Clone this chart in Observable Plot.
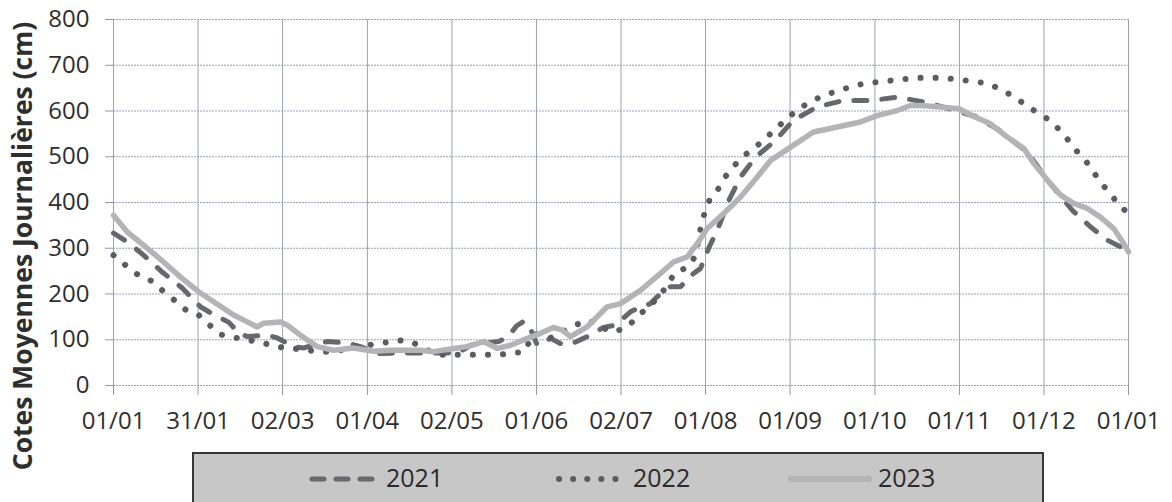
<!DOCTYPE html>
<html>
<head>
<meta charset="utf-8">
<script src="https://cdn.jsdelivr.net/npm/d3@7"></script>
<script src="https://cdn.jsdelivr.net/npm/@observablehq/plot@0.6"></script>
<style>
  html, body { margin: 0; padding: 0; background: #ffffff; overflow: hidden; }
  body { position: relative; width: 1172px; height: 502px; font-family: "Open Sans", sans-serif; }
  #chart { position: absolute; left: 0; top: 0; }
  #ytitle { position: absolute; left: 22px; top: 246px; white-space: nowrap; font-weight: bold;
            font-size: 26.5px; line-height: 1; color: #2e2e2e;
            transform: translate(-50%, -50%) rotate(-90deg); }
  #legend { position: absolute; left: 192px; top: 452px; width: 848px; height: 70px;
            background: #c7c7c7; border: 2px solid #363636; }
  .sw { position: absolute; }
  .lt { position: absolute; font-size: 25px; color: #2b2b2b; line-height: 1; }
</style>
</head>
<body>
<div id="chart"></div>
<div id="ytitle"></div>
<div id="legend"></div>
<script>
// ---- Data ----
const tickDays = [0, 30.4, 60.8, 91.3, 121.7, 152.1, 182.5, 212.9, 243.3, 273.8, 304.2, 334.6, 365];
const tickLabels = ["01/01","31/01","02/03","01/04","02/05","01/06","02/07","01/08","01/09","01/10","01/11","01/12","01/01"];
const yTicks = [0, 100, 200, 300, 400, 500, 600, 700, 800];
const yTitle = "Cotes Moyennes Journalières (cm)";
const years = ["2021", "2022", "2023"];

const days2021 = [0, 5.0, 10.8, 17.5, 24.7, 31.3, 36.0, 41.5, 45.0, 48.1,
  55.3, 58.9, 64.8, 68.3, 76.8, 84.0, 88.8, 94.8, 103.2, 116.5,
  123.7, 128.4, 138.5, 142.0, 144.9, 147.4, 149.2, 152.4, 157.2, 160.7,
  164.3, 169.0, 171.5, 176.2, 180.5, 185.9, 188.3, 193.1, 195.5, 200.3,
  203.9, 208.6, 211.1, 214.0, 217.1, 221.3, 225.5, 230.9, 238.1, 244.5,
  253.1, 262.5, 272.2, 281.8, 291.4, 302.8, 310.0, 317.8, 328.6, 335.8,
  344.8, 351.3, 357.3, 362.1, 365];
const cote2021 = [333, 314, 285, 248, 213, 172, 155, 138, 115, 107,
  110, 104, 85, 82, 96, 93, 85, 70, 71, 71,
  71, 88, 96, 107, 130, 140, 135, 88, 103, 92,
  90, 103, 110, 127, 132, 161, 168, 179, 194, 216,
  216, 245, 256, 300, 339, 405, 456, 499, 536, 580,
  609, 623, 623, 630, 620, 601, 588, 561, 510, 449,
  383, 347, 318, 303, 289];

const days2022 = [0, 4.7, 9.0, 13.9, 17.5, 21.6, 25.9, 30.6, 34.2, 38.1,
  45.0, 53.8, 58.3, 65.8, 73.7, 79.1, 88.0, 97.1, 102.0, 107.1,
  111.8, 116.9, 127.3, 132.6, 138.0, 142.8, 147.8, 151.0, 156.8, 161.5,
  166.1, 170.8, 175.0, 179.8, 184.7, 188.3, 196.3, 202.1, 206.4, 209.3,
  211.1, 212.5, 214.3, 217.5, 220.1, 223.3, 226.9, 230.9, 234.8, 238.7,
  242.5, 246.4, 251.3, 256.0, 261.4, 266.2, 271.6, 277.0, 282.2, 287.6,
  293.0, 298.4, 303.6, 308.9, 314.2, 319.0, 323.5, 328.0, 332.2, 336.7,
  340.6, 343.9, 347.1, 350.4, 352.8, 355.8, 359.1, 362.5, 365];
const cote2022 = [285, 261, 241, 228, 208, 188, 166, 154, 134, 112,
  103, 93, 85, 80, 74, 74, 85, 93, 99, 96,
  80, 67, 67, 67, 67, 70, 74, 114, 103, 118,
  132, 143, 128, 117, 127, 150, 194, 248, 258, 283,
  343, 376, 405, 430, 457, 481, 503, 521, 542, 564,
  585, 605, 622, 636, 645, 656, 661, 665, 668, 672,
  673, 672, 669, 665, 660, 648, 632, 614, 596, 580,
  556, 532, 507, 485, 463, 438, 414, 388, 378];

const days2023 = [0, 4.9, 10.8, 18.0, 24.1, 30.6, 36.0, 43.2, 48.1, 51.7,
  53.9, 60.1, 62.5, 67.2, 73.3, 79.1, 86.3, 93.5, 99.6, 103.2,
  110.4, 115.1, 122.3, 127.2, 133.1, 138.0, 142.8, 148.8, 153.6, 158.2,
  161.4, 164.3, 170.3, 177.5, 182.3, 189.5, 196.7, 201.4, 206.3, 209.9,
  213.5, 219.4, 225.5, 231.5, 236.3, 243.5, 251.7, 260.3, 268.6, 274.6,
  281.8, 286.6, 290.2, 297.4, 304.0, 309.4, 315.4, 321.4, 327.4, 331.0,
  335.8, 340.6, 345.3, 350.2, 354.9, 359.7, 363.3, 365];
const cote2023 = [372, 336, 307, 270, 237, 205, 183, 154, 139, 128,
  136, 139, 132, 110, 85, 77, 82, 75, 77, 77,
  77, 74, 81, 85, 96, 81, 88, 103, 114, 127,
  121, 107, 128, 172, 179, 208, 245, 270, 281, 310,
  343, 376, 412, 456, 492, 521, 554, 565, 576, 590,
  601, 612, 612, 609, 605, 588, 572, 543, 518, 485,
  449, 416, 398, 387, 368, 343, 310, 292];

// ---- Build table ----
function rows(year, days, vals) {
  const n = Math.min(days.length, vals.length);
  return d3.range(n).map(i => ({year, day: days[i], cote: vals[i]}));
}
const s2021 = rows("2021", days2021, cote2021);
const s2022 = rows("2022", days2022, cote2022);
const s2023 = rows("2023", days2023, cote2023);

const gridColor = "#9196ae";
const textColor = "#2e2e2e";
const col2021 = "#66686e";
const col2022 = "#5a5c62";
const col2023 = "#b4b4b6";

const chart = Plot.plot({
  width: 1172,
  height: 445,
  marginLeft: 113,
  marginRight: 44,
  marginTop: 19,
  marginBottom: 60,
  style: {fontFamily: "'Open Sans', sans-serif", background: "transparent", color: textColor},
  x: {domain: [0, 365]},
  y: {domain: [0, 800]},
  marks: [
    Plot.gridY(yTicks, {stroke: gridColor, strokeOpacity: 0.9, strokeWidth: 1, strokeDasharray: "2 1"}),
    Plot.gridX(tickDays, {stroke: gridColor, strokeOpacity: 0.9, strokeWidth: 1}),
    Plot.axisY({ticks: yTicks, tickSize: 8, tickPadding: 16, stroke: gridColor, fill: textColor,
      fontSize: 24, tickFormat: d => String(d), label: null}),
    Plot.axisX({ticks: tickDays, tickSize: 10, tickPadding: 16, stroke: gridColor, fill: textColor,
      fontSize: 24, tickFormat: d => tickLabels[tickDays.indexOf(d)], label: null}),
    Plot.line(s2021, {x: "day", y: "cote", stroke: col2021, strokeWidth: 5,
      strokeDasharray: "13 15", strokeLinecap: "round", strokeLinejoin: "round"}),
    Plot.line(s2022, {x: "day", y: "cote", stroke: col2022, strokeWidth: 6,
      strokeDasharray: "0.1 15", strokeLinecap: "round", strokeLinejoin: "round"}),
    Plot.line(s2023, {x: "day", y: "cote", stroke: col2023, strokeWidth: 5.5,
      strokeLinecap: "round", strokeLinejoin: "round"})
  ]
});
document.getElementById("chart").appendChild(chart);
document.getElementById("ytitle").textContent = yTitle;

// ---- Legend (below the SVG) ----
const legend = document.getElementById("legend");
const ox = 194, oy = 454; // legend inner origin (page coords)
const items = [
  {year: years[0], color: col2021, width: 5, dash: "12 12", x1: 312, x2: 377, tx: 386},
  {year: years[1], color: col2022, width: 6, dash: "0.1 14", x1: 559, x2: 617, tx: 633},
  {year: years[2], color: col2023, width: 6, dash: null, x1: 791, x2: 869, tx: 878}
];
for (const it of items) {
  const svg = d3.create("svg").attr("class", "sw")
    .attr("width", 100).attr("height", 20)
    .style("left", (it.x1 - 10 - ox) + "px").style("top", (479 - 10 - oy) + "px");
  const ln = svg.append("line").attr("x1", 10).attr("x2", 10 + it.x2 - it.x1)
    .attr("y1", 10).attr("y2", 10)
    .attr("stroke", it.color).attr("stroke-width", it.width).attr("stroke-linecap", "round");
  if (it.dash) ln.attr("stroke-dasharray", it.dash);
  legend.appendChild(svg.node());
  const t = document.createElement("div");
  t.className = "lt";
  t.textContent = it.year;
  t.style.left = (it.tx - ox) + "px";
  t.style.top = (479 - 14 - oy) + "px";
  legend.appendChild(t);
}
</script>
</body>
</html>
